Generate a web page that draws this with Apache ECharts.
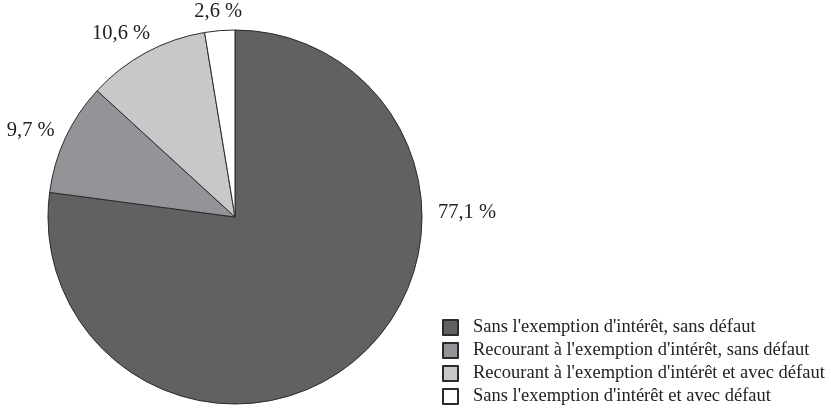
<!DOCTYPE html>
<html>
<head>
<meta charset="utf-8">
<script src="https://cdn.jsdelivr.net/npm/echarts@6/dist/echarts.min.js"></script>
<style>
  html, body { margin: 0; padding: 0; background: #fff; }
  #chart { width: 831px; height: 412px; }
</style>
</head>
<body>
<div id="chart"></div>
<script>
// Répartition des entreprises selon le recours à l'exemption d'intérêt et le défaut
const categories = [
  "Sans l'exemption d'intérêt, sans défaut",
  "Recourant à l'exemption d'intérêt, sans défaut",
  "Recourant à l'exemption d'intérêt et avec défaut",
  "Sans l'exemption d'intérêt et avec défaut"
];
const shares = [77.1, 9.7, 10.6, 2.6];
const sliceColors = ['#616163', '#939497', '#c8c8ca', '#ffffff'];

const CX = 235, CY = 217, R = 187;
const total = shares.reduce((a, b) => a + b, 0);

// angle (clockwise from 12 o'clock) of each slice midpoint
const midAngles = [];
let acc = 0;
shares.forEach(v => {
  midAngles.push((acc + v / 2) / total * 2 * Math.PI);
  acc += v;
});

const fmt = v => v.toFixed(1).replace('.', ',') + ' %';
const deg = Math.PI / 180;

// label placement: distance from centre and angular nudge per slice
const labelDist = [R + 45, R + 35, R + 29, R + 19];
const labelNudge = [0, -2 * deg, -3.4 * deg, 0];

const chart = echarts.init(document.getElementById('chart'), null, { renderer: 'canvas' });

chart.setOption({
  animation: false,
  backgroundColor: '#ffffff',
  textStyle: { fontFamily: 'Liberation Serif, serif' },
  legend: {
    orient: 'vertical',
    left: 437,
    top: 313,
    height: 110,
    itemWidth: 15,
    itemHeight: 15,
    itemGap: 4,
    icon: 'rect',
    textStyle: {
      fontFamily: 'Liberation Serif, serif',
      fontSize: 18.5,
      lineHeight: 19,
      color: '#222',
      padding: [0, 0, 0, 10]
    },
    data: categories
  },
  series: [{
    type: 'pie',
    center: [CX, CY],
    radius: R,
    startAngle: 90,
    clockwise: true,
    silent: true,
    label: {
      show: true,
      position: 'outside',
      overflow: 'none',
      fontFamily: 'Liberation Serif, serif',
      fontSize: 20.5,
      color: '#222',
      formatter: p => fmt(p.value)
    },
    labelLine: { show: false },
    labelLayout: function (params) {
      const i = params.dataIndex;
      // big slice label sits to the right of the disc; others along their midpoint
      const ang = i === 0 ? Math.PI / 2 - 0.02 : midAngles[i] + labelNudge[i];
      const dist = labelDist[i];
      return {
        x: CX + dist * Math.sin(ang),
        y: CY - dist * Math.cos(ang),
        align: 'center',
        verticalAlign: 'middle'
      };
    },
    itemStyle: { borderColor: '#2b2b2b', borderWidth: 1 },
    data: categories.map((name, i) => ({
      name: name,
      value: shares[i],
      itemStyle: { color: sliceColors[i] }
    }))
  }]
});
</script>
</body>
</html>
